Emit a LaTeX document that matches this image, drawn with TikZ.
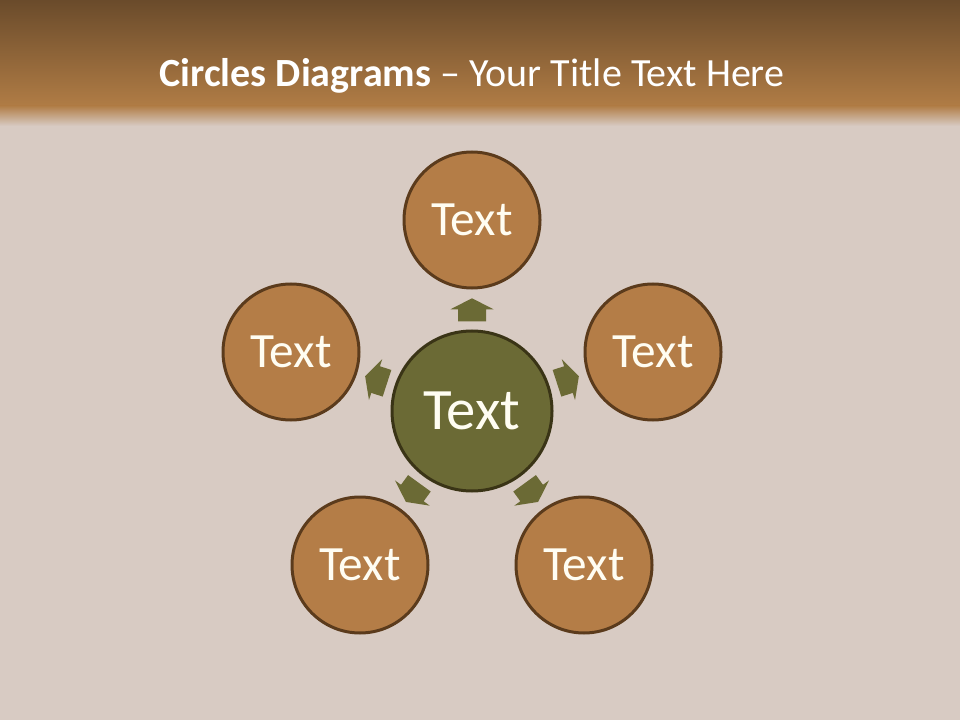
\documentclass[tikz,border=0pt]{standalone}
\usepackage{fontspec}
\setmainfont{Carlito}
\usepackage{xcolor}
\usepackage{tikz}
\usetikzlibrary{calc}

\definecolor{barTop}{HTML}{6A4B2B}
\definecolor{barBot}{HTML}{B07C45}
\definecolor{woodBg}{HTML}{D8CBC3}
\definecolor{ringFill}{HTML}{B47D47}
\definecolor{ringLine}{HTML}{5B3B1C}
\definecolor{hubFill}{HTML}{6B6A35}
\definecolor{hubLine}{HTML}{3A3416}
\definecolor{txtWhite}{HTML}{FFFDF2}

\tikzset{
	ring/.style={circle,fill=ringFill,draw=ringLine,line width=2.25pt,minimum size=102pt,inner sep=0pt,text=txtWhite,font=\fontsize{37}{40}\selectfont},
	hub/.style={circle,fill=hubFill,draw=hubLine,line width=2.25pt,minimum size=120pt,inner sep=0pt,text=txtWhite,font=\fontsize{44}{48}\selectfont},
	blkarrow/.pic={
		\fill[hubFill] (-11.5,-14) -- (0.5,-14) -- (0.5,-21.5) -- (11.5,0) -- (0.5,21.5) -- (0.5,14) -- (-11.5,14) -- cycle;
	}
}

\begin{document}
\begin{tikzpicture}[x=0.75pt,y=-0.75pt]
	\useasboundingbox (0,0) rectangle (960,720);
	% background and title bar
	\fill[woodBg] (0,0) rectangle (960,720);
	\shade[top color=barTop,bottom color=barBot] (0,0) rectangle (960,106);
	\shade[top color=barBot,bottom color=woodBg] (0,105.5) rectangle (960,126);
	\node[text=white,font=\fontsize{30}{36}\selectfont] (title) at (472,76) {\textbf{Circles Diagrams} -- Your Title Text Here};
	% circles
	\node[hub] (hub) at (472,411) {Text};
	\node[ring] (t1) at (472,220) {Text};
	\node[ring] (t2) at (653,352) {Text};
	\node[ring] (t3) at (584,565) {Text};
	\node[ring] (t4) at (360,565) {Text};
	\node[ring] (t5) at (291,352) {Text};
	% arrows
	\pic[rotate=90] at ($(hub)!0.53!(t1)$) {blkarrow};
	\pic[rotate=18] at ($(hub)!0.53!(t2)$) {blkarrow};
	\pic[rotate=-54] at ($(hub)!0.53!(t3)$) {blkarrow};
	\pic[rotate=-126] at ($(hub)!0.53!(t4)$) {blkarrow};
	\pic[rotate=162] at ($(hub)!0.53!(t5)$) {blkarrow};
\end{tikzpicture}
\end{document}
